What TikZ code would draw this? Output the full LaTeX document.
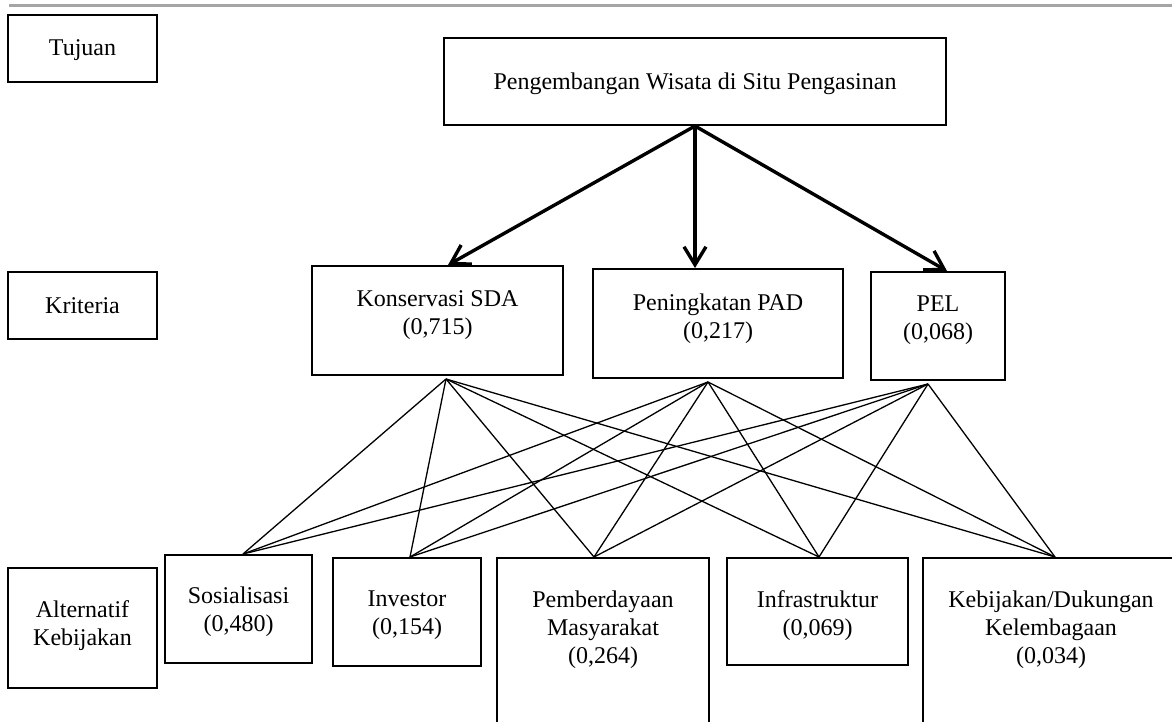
\documentclass[tikz,border=0pt]{standalone}
\usepackage{fontspec}
\setmainfont{Liberation Serif}
\usetikzlibrary{arrows.meta,positioning}
\definecolor{rulegray}{RGB}{165,165,165}

\begin{document}
\begin{tikzpicture}[x=0.5pt,y=-0.5pt]
\tikzstyle box=[draw,line width=1pt,inner sep=0pt,anchor=north]
\tikzstyle txt=[align=center,inner sep=0pt,font=\fontsize{12pt}{14pt}\selectfont]
\tikzstyle link=[line width=0.65pt]
\tikzstyle goalarrow=[line width=1.7pt,-{Straight Barb[length=9pt,width=11pt]}]
 \path[use as bounding box,clip] (0,0) rectangle (1172,722);
 \draw[rulegray,line width=1.5pt] (9,5.5) -- (1172,5.5);
 % levels
 \node[box,minimum width=74.5pt,minimum height=33.5pt] (tujuan) at (82.5,14) {};
 \node[txt,below=12.5pt of tujuan.north] (tujuanT) {Tujuan};
 \node[box,minimum width=74.5pt,minimum height=33.5pt] (kriteria) at (82.5,271) {};
 \node[txt,below=13pt of kriteria.north] (kriteriaT) {Kriteria};
 \node[box,minimum width=74.5pt,minimum height=60pt] (alt) at (82.5,567) {};
 \node[txt,below=16.5pt of alt.north] (altT) {Alternatif\\Kebijakan};
 % goal
 \node[box,minimum width=251pt,minimum height=43.5pt] (goal) at (695,37) {};
 \node[txt,below=17.5pt of goal.north] (goalT) {Pengembangan Wisata di Situ Pengasinan};
 % criteria
 \node[box,minimum width=125.5pt,minimum height=54.5pt] (kons) at (437.5,265) {};
 \node[txt,below=12.5pt of kons.north] (konsT) {Konservasi SDA\\(0,715)};
 \node[box,minimum width=125pt,minimum height=54.5pt] (pad) at (718,268) {};
 \node[txt,below=12.5pt of pad.north] (padT) {Peningkatan PAD\\(0,217)};
 \node[box,minimum width=67pt,minimum height=54pt] (pel) at (938,271) {};
 \node[txt,below=12pt of pel.north] (pelT) {PEL\\(0,068)};
 % alternatives
 \node[box,minimum width=73.5pt,minimum height=54pt] (sos) at (238.5,554) {};
 \node[txt,below=16pt of sos.north] (sosT) {Sosialisasi\\(0,480)};
 \node[box,minimum width=74pt,minimum height=54pt] (inv) at (407,557) {};
 \node[txt,below=16.5pt of inv.north] (invT) {Investor\\(0,154)};
 \node[box,minimum width=106pt,minimum height=110pt] (pemb) at (603,557) {};
 \node[txt,below=16.5pt of pemb.north] (pembT) {Pemberdayaan\\Masyarakat\\(0,264)};
 \node[box,minimum width=90.5pt,minimum height=53.5pt] (infra) at (817.5,557) {};
 \node[txt,below=16.5pt of infra.north] (infraT) {Infrastruktur\\(0,069)};
 \node[box,minimum width=128.5pt,minimum height=110pt] (keb) at (1051,557) {};
 \node[txt,below=16.5pt of keb.north] (kebT) {Kebijakan/Dukungan\\Kelembagaan\\(0,034)};
 % goal to criteria
 \draw[goalarrow] (goal.south) -- ([xshift=5.25pt]kons.north);
 \draw[goalarrow] (goal.south) -- ([xshift=-11.5pt]pad.north);
 \draw[goalarrow] (goal.south) -- ([xshift=4.5pt]pel.north);
 % criteria to alternatives
 \coordinate (konsB) at ([xshift=4.25pt,yshift=-1.5pt]kons.south);
 \coordinate (padB) at ([xshift=-5pt,yshift=-1.5pt]pad.south);
 \coordinate (pelB) at ([xshift=-5pt,yshift=-1.5pt]pel.south);
 \coordinate (sosA) at ([xshift=2.25pt]sos.north);
 \coordinate (invA) at ([xshift=1.5pt]inv.north);
 \coordinate (pembA) at ([xshift=-4.5pt]pemb.north);
 \coordinate (infraA) at ([xshift=0.75pt]infra.north);
 \coordinate (kebA) at ([xshift=2pt]keb.north);
 \foreach \c in {konsB,padB,pelB}
  \foreach \a in {sosA,invA,pembA,infraA,kebA}
   \draw[link] (\c) -- (\a);
\end{tikzpicture}
\end{document}
